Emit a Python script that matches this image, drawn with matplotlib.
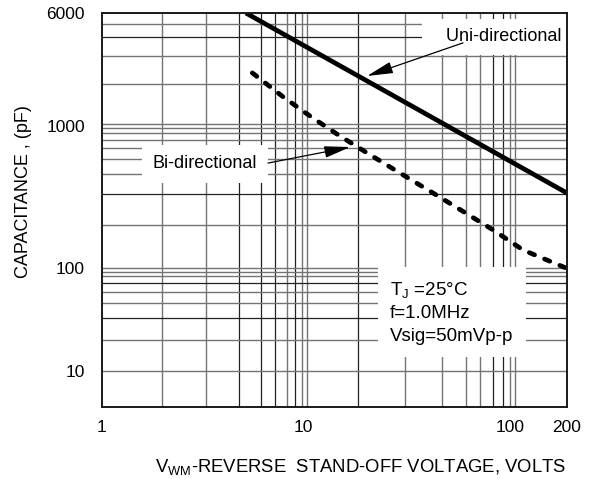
import numpy as np
import matplotlib
matplotlib.use('Agg')
import matplotlib.pyplot as plt

plt.rcParams['font.family'] = ['Liberation Sans', 'DejaVu Sans']
plt.rcParams['mathtext.fontset'] = 'custom'
plt.rcParams['mathtext.rm'] = 'Liberation Sans'
plt.rcParams['mathtext.it'] = 'Liberation Sans:italic'

# curves
UNI_V = [5.2, 200]
UNI_C = [6000, 337]
BI_V = [5.6, 8.0, 11, 14.8, 20.4, 27.8, 44, 61, 83, 117, 200]
BI_C = [2320, 1580, 1150, 865, 646, 490, 327, 244, 185, 134, 99]

X_TICKS = [1, 10, 100, 200]
X_LABELS = ['1', '10', '100', '200']
Y_TICKS = [10, 100, 1000, 6000]
Y_LABELS = ['10', '100', '1000', '6000']

# grid as drawn on the sheet (it is not a clean log grid)
X_GRID_DARK = [4.8, 6.2, 7.3, 9.1, 18.4, 83, 92.5]
X_GRID_LIGHT = [2.0, 3.3, 8.3, 9.9, 10.45, 31, 47, 61, 72, 100, 106]
Y_GRID_DARK = [4100, 332, 71.5, 32.7]
Y_GRID_LIGHT = [5040, 3030, 1950, 1030, 968, 893, 796, 700, 586, 459,
                201, 100, 91.4, 83.6, 58.5, 45.7, 20, 10]

# decades on the sheet have unequal lengths, so use a piecewise log scale
X_KNOTS, X_LEN = [1, 10, 100, 200], [0, 201.3, 408.3, 465.3]
Y_KNOTS, Y_LEN = [4.5, 10, 100, 1000, 6000], [0, 36, 139, 281, 394]


def piecewise_log(knots, lengths):
    lk = np.log10(knots)
    ln = np.asarray(lengths, float)
    s0 = (ln[1] - ln[0]) / (lk[1] - lk[0])
    s1 = (ln[-1] - ln[-2]) / (lk[-1] - lk[-2])

    def fwd(v):
        v = np.asarray(v, float)
        with np.errstate(divide='ignore', invalid='ignore'):
            l = np.log10(np.where(v > 0, v, np.nan))
        out = np.interp(l, lk, ln)
        out = np.where(l < lk[0], ln[0] + (l - lk[0]) * s0, out)
        out = np.where(l > lk[-1], ln[-1] + (l - lk[-1]) * s1, out)
        return out

    def inv(p):
        p = np.asarray(p, float)
        l = np.interp(p, ln, lk)
        l = np.where(p < ln[0], lk[0] + (p - ln[0]) / s0, l)
        l = np.where(p > ln[-1], lk[-1] + (p - ln[-1]) / s1, l)
        return 10 ** l

    return fwd, inv


fig = plt.figure(figsize=(5.92, 4.79), dpi=100)
ax = fig.add_axes([0.1718, 0.1503, 0.786, 0.8226])
ax.set_xscale('function', functions=piecewise_log(X_KNOTS, X_LEN))
ax.set_yscale('function', functions=piecewise_log(Y_KNOTS, Y_LEN))
ax.set_xlim(1, 200)
ax.set_ylim(4.5, 6000)

for xv in X_GRID_LIGHT:
    ax.axvline(xv, color='#747474', lw=1.0, zorder=1)
for xv in X_GRID_DARK:
    ax.axvline(xv, color='#222222', lw=0.9, zorder=1)
for yv in Y_GRID_LIGHT:
    ax.axhline(yv, color='#747474', lw=1.0, zorder=1)
for yv in Y_GRID_DARK:
    ax.axhline(yv, color='#222222', lw=0.9, zorder=1)

ax.plot(UNI_V, UNI_C, color='black', lw=3.4, solid_capstyle='butt', zorder=4)
ax.plot(BI_V, BI_C, color='black', lw=3.4, linestyle=(0, (1.2, 2.3)),
        dash_capstyle='round', zorder=4)

ax.set_xticks(X_TICKS, X_LABELS)
ax.set_yticks(Y_TICKS, Y_LABELS)
ax.xaxis.set_minor_locator(matplotlib.ticker.NullLocator())
ax.yaxis.set_minor_locator(matplotlib.ticker.NullLocator())
ax.tick_params(axis='x', length=0, pad=9, labelsize=12.5)
ax.tick_params(axis='y', length=0, pad=12, labelsize=12.5)
for sp in ax.spines.values():
    sp.set_linewidth(1.4)
    sp.set_color('#1a1a1a')
    sp.set_zorder(7)

ax.text(188, 4100, '   Uni-directional', ha='right', va='center',
        fontsize=13, zorder=5,
        bbox=dict(boxstyle='square,pad=0.5', facecolor='white', edgecolor='none'))
ax.text(3.26, 540, 'Bi-directional', ha='center', va='center',
        fontsize=13, zorder=5,
        bbox=dict(boxstyle='square,pad=0.6', facecolor='white', edgecolor='none'))
ax.text(26.3, 37, 'T$_{\\rm J}$ =25°C\nf=1.0MHz\nVsig=50mVp-p',
        ha='left', va='center', fontsize=13.5, linespacing=1.42, zorder=5,
        bbox=dict(boxstyle='square,pad=0.65', facecolor='white', edgecolor='none'))

arrow = dict(arrowstyle='-|>,head_length=1.6,head_width=0.36', color='black',
             lw=0.9, shrinkA=0, shrinkB=0, mutation_scale=10)
ax.annotate('', xy=(20.4, 2210), xytext=(59.3, 3735), arrowprops=arrow, zorder=6)
ax.annotate('', xy=(16.9, 711), xytext=(6.7, 548), arrowprops=arrow, zorder=6)

ax.set_ylabel('CAPACITANCE , (pF)', fontsize=13)
ax.yaxis.set_label_coords(-0.150, 0.546)
ax.set_xlabel('V$_{\\rm WM}$-REVERSE  STAND-OFF VOLTAGE, VOLTS', fontsize=13.3)
ax.xaxis.set_label_coords(0.557, -0.128)

fig.savefig('out.png', dpi=100)
